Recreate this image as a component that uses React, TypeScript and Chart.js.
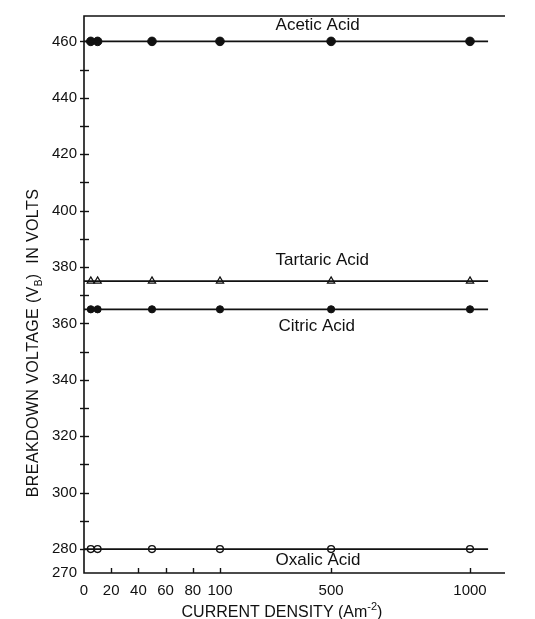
import React, { useEffect, useRef } from "react";
import { Chart, registerables } from "chart.js";

Chart.register(...registerables);

// ---- data ----
const currentDensity = [5, 10, 50, 100, 500, 1000];
const aceticAcid = [460, 460, 460, 460, 460, 460];
const tartaricAcid = [375, 375, 375, 375, 375, 375];
const citricAcid = [365, 365, 365, 365, 365, 365];
const oxalicAcid = [280, 280, 280, 280, 280, 280];
const fitLineRange = [0, 1065];
const seriesNames = ["Acetic Acid", "Tartaric Acid", "Citric Acid", "Oxalic Acid"];
const xTickLabels = [0, 20, 40, 60, 80, 100, 500, 1000];
const yTickLabels = [270, 280, 300, 320, 340, 360, 380, 400, 420, 440, 460];
const yMinorTicks = [290, 310, 330, 350, 370, 390, 410, 430, 450];
const labelDensity = 300;

// broken x scale: 0-100 expanded, 100-1000 compressed
const BREAK = 100;
const K = 0.2043;
const toU = (v: number) => (v <= BREAK ? v : BREAK + (v - BREAK) * K);
const fromU = (u: number) => (u <= BREAK ? u : BREAK + (u - BREAK) / K);

const Y_MIN = 271.5;
const Y_MAX = 469;
const X_MAX_U = 309.6;

const FONT = "'Liberation Sans', Arial, sans-serif";

function pts(vals: number[]) {
  return currentDensity.map((x, i) => ({ x: toU(x), y: vals[i] }));
}
function fit(v: number) {
  return fitLineRange.map((x) => ({ x: toU(x), y: v }));
}

const overlay = {
  id: "overlay",
  afterDraw(chart: any) {
    const { ctx, chartArea } = chart;
    const xs = chart.scales.x;
    const ys = chart.scales.y;
    const { left, right, top, bottom } = chartArea;
    ctx.save();
    ctx.strokeStyle = "#111";
    ctx.lineWidth = 1.6;
    ctx.beginPath();
    ctx.moveTo(right, top);
    ctx.lineTo(left, top);
    ctx.lineTo(left, bottom);
    ctx.lineTo(right, bottom);
    ctx.stroke();
    // y ticks (cross style)
    ctx.lineWidth = 1.4;
    const yt = yTickLabels.filter((v) => v !== 270).concat(yMinorTicks);
    yt.forEach((v) => {
      const y = Math.round(ys.getPixelForValue(v)) + 0.5;
      ctx.beginPath();
      ctx.moveTo(left - 4, y);
      ctx.lineTo(left + 5, y);
      ctx.stroke();
    });
    xTickLabels.filter((v) => v !== 0).forEach((v) => {
      const x = Math.round(xs.getPixelForValue(toU(v))) + 0.5;
      ctx.beginPath();
      ctx.moveTo(x, bottom);
      ctx.lineTo(x, bottom - 5);
      ctx.stroke();
    });
    // series labels
    ctx.fillStyle = "#111";
    ctx.font = `17px ${FONT}`;
    ctx.textAlign = "left";
    ctx.textBaseline = "middle";
    const levels = [aceticAcid[0], tartaricAcid[0], citricAcid[0], oxalicAcid[0]];
    const offs = [-16, -21, 17, 11];
    const dx = [0, 0, 3, 0];
    const lx = xs.getPixelForValue(toU(labelDensity));
    seriesNames.forEach((n, i) => {
      ctx.fillText(n, lx + dx[i], ys.getPixelForValue(levels[i]) + offs[i]);
    });
    // x title with superscript
    ctx.textBaseline = "alphabetic";
    const p1 = "CURRENT DENSITY (Am";
    const sup = "-2";
    const p3 = ")";
    ctx.font = `16px ${FONT}`;
    const w1 = ctx.measureText(p1).width;
    ctx.font = `11px ${FONT}`;
    const w2 = ctx.measureText(sup).width;
    ctx.font = `16px ${FONT}`;
    const w3 = ctx.measureText(p3).width;
    const cx = 282;
    const x0 = cx - (w1 + w2 + w3) / 2;
    const by = 617;
    ctx.fillText(p1, x0, by);
    ctx.font = `11px ${FONT}`;
    ctx.fillText(sup, x0 + w1, by - 7);
    ctx.font = `16px ${FONT}`;
    ctx.fillText(p3, x0 + w1 + w2, by);
    // y title with subscript
    ctx.translate(38, 343);
    ctx.rotate(-Math.PI / 2);
    (ctx as any).letterSpacing = "0.4px";
    const q1 = "BREAKDOWN VOLTAGE (V";
    const sub = "B";
    const q3 = ")  IN VOLTS";
    ctx.font = `16px ${FONT}`;
    const a1 = ctx.measureText(q1).width;
    ctx.font = `10px ${FONT}`;
    const a2 = ctx.measureText(sub).width;
    ctx.font = `16px ${FONT}`;
    const a3 = ctx.measureText(q3).width;
    const s0 = -(a1 + a2 + a3) / 2;
    ctx.fillText(q1, s0, 0);
    ctx.font = `10px ${FONT}`;
    ctx.fillText(sub, s0 + a1, 4);
    ctx.font = `16px ${FONT}`;
    ctx.fillText(q3, s0 + a1 + a2, 0);
    ctx.restore();
  },
};

export default function App() {
  const ref = useRef<HTMLCanvasElement | null>(null);
  useEffect(() => {
    if (!ref.current) return;
    const lineDs = (v: number) => ({
      data: fit(v),
      borderColor: "#111",
      borderWidth: 1.8,
      pointRadius: 0,
      showLine: true,
      fill: false,
    });
    const chart = new Chart(ref.current, {
      type: "scatter",
      data: {
        datasets: [
          lineDs(aceticAcid[0]),
          lineDs(tartaricAcid[0]),
          lineDs(citricAcid[0]),
          lineDs(oxalicAcid[0]),
          {
            label: seriesNames[0],
            data: pts(aceticAcid),
            pointStyle: "circle",
            pointRadius: 4.3,
            backgroundColor: "#111",
            borderColor: "#111",
            borderWidth: 1,
          },
          {
            label: seriesNames[1],
            data: pts(tartaricAcid),
            pointStyle: "triangle",
            pointRadius: 4.2,
            backgroundColor: "#fff",
            borderColor: "#111",
            borderWidth: 1.2,
          },
          {
            label: seriesNames[2],
            data: pts(citricAcid),
            pointStyle: "circle",
            pointRadius: 3.6,
            backgroundColor: "#111",
            borderColor: "#111",
            borderWidth: 1,
          },
          {
            label: seriesNames[3],
            data: pts(oxalicAcid),
            pointStyle: "circle",
            pointRadius: 3.4,
            backgroundColor: "#fff",
            borderColor: "#111",
            borderWidth: 1.4,
          },
        ] as any,
      },
      options: {
        animation: false,
        responsive: false,
        devicePixelRatio: 1,
        layout: { padding: { top: 13, right: 30, left: 0, bottom: 0 } },
        plugins: {
          legend: { display: false },
          tooltip: { enabled: false },
        },
        scales: {
          x: {
            type: "linear",
            min: 0,
            max: X_MAX_U,
            grid: { display: false, drawTicks: false },
            border: { display: false },
            afterBuildTicks: (s: any) => {
              s.ticks = xTickLabels.map((v) => ({ value: toU(v) }));
            },
            afterFit: (s: any) => {
              s.height = 46;
            },
            ticks: {
              autoSkip: false,
              maxRotation: 0,
              padding: 9,
              color: "#111",
              font: { family: FONT, size: 15 },
              callback: (val: any) => String(Math.round(fromU(Number(val)))),
            },
          },
          y: {
            type: "linear",
            min: Y_MIN,
            max: Y_MAX,
            grid: { display: false, drawTicks: false },
            border: { display: false },
            afterBuildTicks: (s: any) => {
              s.ticks = yTickLabels.map((v) => ({ value: v === 270 ? Y_MIN : v }));
            },
            afterFit: (s: any) => {
              s.width = 84;
            },
            ticks: {
              autoSkip: false,
              padding: 7,
              color: "#111",
              font: { family: FONT, size: 15 },
              callback: (val: any) => (Number(val) === Y_MIN ? "270" : String(val)),
            },
          },
        },
      },
      plugins: [overlay],
    });
    return () => chart.destroy();
  }, []);
  return (
    <div style={{ position: "fixed", left: 0, top: 0, width: 535, height: 619, background: "#fff" }}>
      <canvas ref={ref} width={535} height={619} style={{ display: "block" }} />
    </div>
  );
}
